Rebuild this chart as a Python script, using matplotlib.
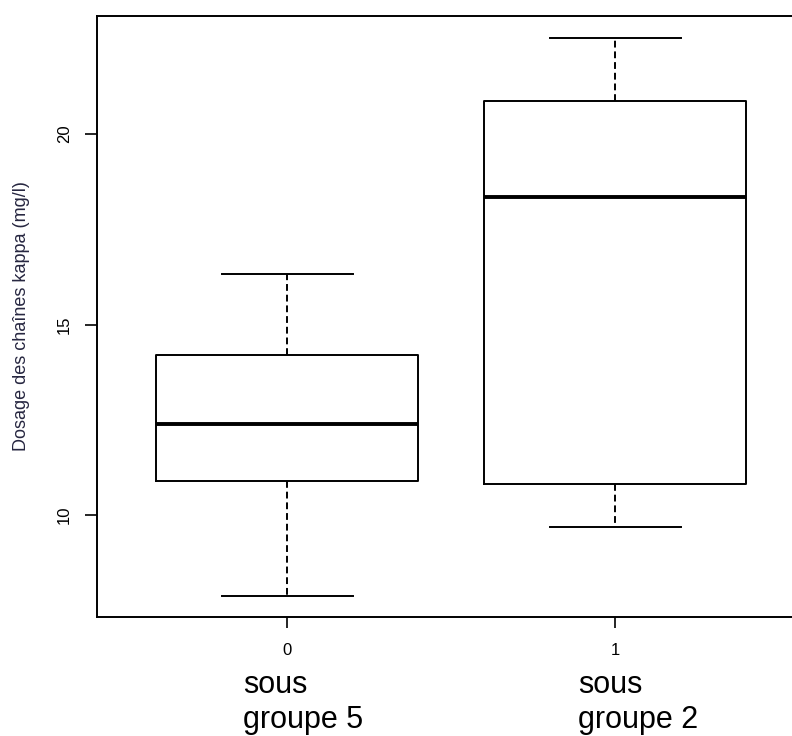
import numpy as np
import matplotlib
matplotlib.use("Agg")
import matplotlib.pyplot as plt

plt.rcParams['font.family'] = ['Liberation Sans', 'DejaVu Sans']

# valeurs
groups = [0, 1]
group_labels = ["sous\ngroupe 5", "sous\ngroupe 2"]
whislo = [7.88, 9.69]
q1 = [10.90, 10.81]
med = [12.39, 18.35]
q3 = [14.21, 20.87]
whishi = [16.32, 22.53]
yticks = [10, 15, 20]
ylabel = "Dosage des chaînes kappa (mg/l)"

stats = []
for i in range(len(groups)):
    stats.append(dict(whislo=whislo[i], q1=q1[i], med=med[i], q3=q3[i],
                      whishi=whishi[i], fliers=[]))

fig = plt.figure(figsize=(7.92, 7.36), dpi=100)
ax = fig.add_axes([0.1231, 0.1621, 0.8933, 0.8166])

ax.bxp(stats, positions=groups, widths=0.8, capwidths=0.4, patch_artist=False,
       boxprops=dict(color='black', linewidth=1.4),
       whiskerprops=dict(color='black', linewidth=1.4, linestyle=(0, (3.5, 2))),
       capprops=dict(color='black', linewidth=1.4),
       medianprops=dict(color='black', linewidth=2.8))

ax.set_xlim(-0.58, 1.58)
ax.set_ylim(7.33, 23.11)
ax.set_xticks(groups)
ax.set_xticklabels([str(g) for g in groups], fontsize=12)
ax.set_yticks(yticks)
ax.set_yticklabels([str(t) for t in yticks], fontsize=12, rotation=90, va='center')
ax.tick_params(axis='y', length=9, width=1.2, pad=9.5)
ax.tick_params(axis='x', length=8, width=1.2, pad=11)
for s in ax.spines.values():
    s.set_linewidth(1.4)

fig.text(0.027, 0.5707, ylabel, rotation=90, fontsize=13, color='#262640',
         ha='center', va='center')

# étiquettes de groupe sous l'axe
label_x = [0.3068, 0.7298]
for xx, lab in zip(label_x, group_labels):
    for j, line in enumerate(lab.split("\n")):
        fig.text(xx, 0.0584 - j * 0.0476, line, fontsize=22, ha='left', va='baseline')

fig.savefig("out.png", dpi=100)
